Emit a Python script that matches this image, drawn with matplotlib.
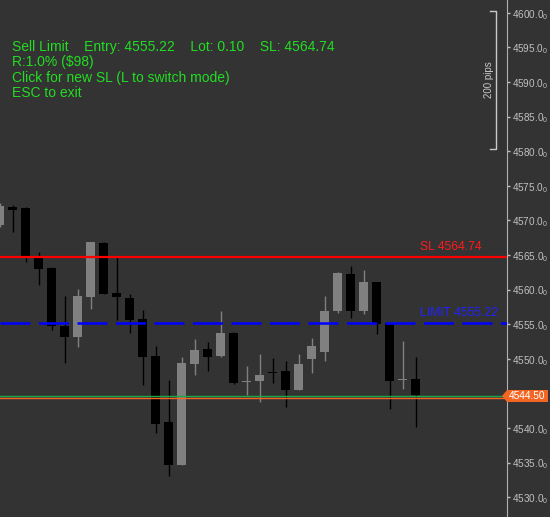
import matplotlib
import matplotlib.pyplot as plt
from matplotlib.patches import Polygon
import matplotlib.transforms as mtransforms

matplotlib.use("Agg")

plt.rcParams["font.family"] = ["Liberation Sans", "DejaVu Sans"]
plt.rcParams["mathtext.fontset"] = "custom"
plt.rcParams["mathtext.rm"] = "Liberation Sans"
plt.rcParams["mathtext.it"] = "Liberation Sans"

# candle data
opens = [4569.4, 4571.9, 4571.8, 4564.75, 4563.1, 4554.8, 4553.2, 4559.0, 4566.7, 4559.5,
         4558.8, 4555.75, 4550.4, 4540.9, 4534.6, 4549.3, 4551.4, 4550.4, 4553.7, 4546.7,
         4546.8, 4548.1, 4548.2, 4545.5, 4549.9, 4551.0, 4556.9, 4562.25, 4556.9, 4561.1,
         4555.2, 4546.9, 4547.1]
highs = [4572.5, 4572.2, 4571.9, 4565.4, 4563.2, 4559.1, 4560.1, 4566.9, 4566.9, 4564.75,
         4559.4, 4557.05, 4551.85, 4546.9, 4550.3, 4552.9, 4552.4, 4556.9, 4553.9, 4548.9,
         4550.7, 4550.1, 4549.7, 4550.75, 4553.0, 4559.1, 4562.5, 4563.4, 4562.8, 4561.1,
         4555.2, 4552.6, 4550.3]
lows = [4569.0, 4568.3, 4564.0, 4560.7, 4554.2, 4549.4, 4551.75, 4557.2, 4559.4, 4555.6,
        4553.8, 4546.25, 4539.3, 4533.1, 4534.6, 4547.7, 4548.3, 4550.2, 4546.4, 4544.7,
        4543.8, 4546.55, 4543.1, 4545.5, 4548.0, 4549.7, 4556.6, 4555.9, 4556.5, 4553.6,
        4542.8, 4545.7, 4540.1]
closes = [4572.1, 4571.5, 4564.6, 4563.0, 4554.8, 4553.2, 4559.1, 4566.9, 4559.4, 4559.0,
          4555.65, 4550.3, 4540.6, 4534.65, 4549.4, 4551.3, 4550.3, 4553.7, 4546.55, 4546.8,
          4547.65, 4548.0, 4545.5, 4549.3, 4551.8, 4556.9, 4562.4, 4556.9, 4561.1, 4555.1,
          4546.8, 4547.0, 4544.7]

sl_price = 4564.74
entry_price = 4555.22
bid_price = 4544.50
# 4545 label is hidden behind the price tag
price_ticks = [4530, 4535, 4540, 4550, 4555, 4560, 4565, 4570, 4575,
               4580, 4585, 4590, 4595, 4600]

bg = "#333333"
fig = plt.figure(figsize=(5.5, 5.17), dpi=100, facecolor=bg)
ax = fig.add_axes([0, 0, 507 / 550, 1])
ax.set_facecolor(bg)

for i in range(len(opens)):
    o, h, l, c = opens[i], highs[i], lows[i], closes[i]
    col = "#808080" if c >= o else "#000000"
    ax.plot([i, i], [l, h], color=col, lw=1, solid_capstyle="butt", zorder=2)
    ax.bar(i, max(abs(c - o), 0.15), bottom=min(o, c), width=0.69,
           color=col, linewidth=0, zorder=3)

ax.axhline(sl_price, color="#ff0000", lw=1.6, zorder=4)
ax.axhline(entry_price, color="#0000ff", lw=1.8, dashes=(12, 3.4), zorder=4)
ax.axhline(bid_price + 0.1, color="#1aa84a", lw=1.0, zorder=4)
ax.axhline(bid_price - 0.12, color="#f26522", lw=1.0, zorder=4)

bt = mtransforms.blended_transform_factory(ax.transAxes, ax.transData)
ax.text(420.5 / 507, sl_price + 0.95, "SL 4564.74", color="#ff1a1a", fontsize=8.7,
        transform=bt, zorder=6)
ax.text(420 / 507, entry_price + 0.95, "LIMIT 4555.22", color="#2222ff", fontsize=8.7,
        transform=bt, zorder=6)

ax.set_xlim(0.5 / 13, 507.5 / 13)
ax.set_ylim(4527.14, 4601.85)

ax.yaxis.tick_right()
ax.set_yticks(price_ticks)
ax.set_yticklabels([f"{p}.0$_0$" for p in price_ticks])
ax.tick_params(axis="y", colors="#c0c0c0", length=2, width=1, pad=1.5, labelsize=7.2)
ax.set_xticks([])
for s in ["top", "left", "bottom"]:
    ax.spines[s].set_visible(False)
ax.spines["right"].set_color("#b0b0b0")

# 200 pips bracket
bx = 495.7 / 507
tx = 490 / 507
ax.plot([tx, bx, bx, tx], [4600.3, 4600.3, 4580.3, 4580.3], color="#c8c8c8", lw=1,
        transform=bt, clip_on=False)
ax.text(488.5 / 507, 4590.3, "200 pips", rotation=90, color="#c8c8c8", fontsize=7,
        ha="center", va="center", transform=bt)

# info text
green = "#22dd22"
lines = ["Sell Limit    Entry: 4555.22    Lot: 0.10    SL: 4564.74",
         "R:1.0% ($98)",
         "Click for new SL (L to switch mode)",
         "ESC to exit"]
for k, t in enumerate(lines):
    fig.text(11.5 / 550, 1 - (51 + 15.3 * k) / 517, t, color=green, fontsize=10,
             va="baseline")

# price tag
tag = Polygon([(502, 517 - 396), (507, 517 - 390), (548, 517 - 390),
               (548, 517 - 402), (507, 517 - 402)], closed=True,
              facecolor="#f26522", edgecolor="none", transform=None, zorder=10)
fig.patches.append(tag)
fig.text(527 / 550, 1 - 396 / 517, "4544.50", color="white", fontsize=7.3,
         ha="center", va="center", zorder=11)

fig.savefig("out.png", dpi=100, facecolor=bg)
